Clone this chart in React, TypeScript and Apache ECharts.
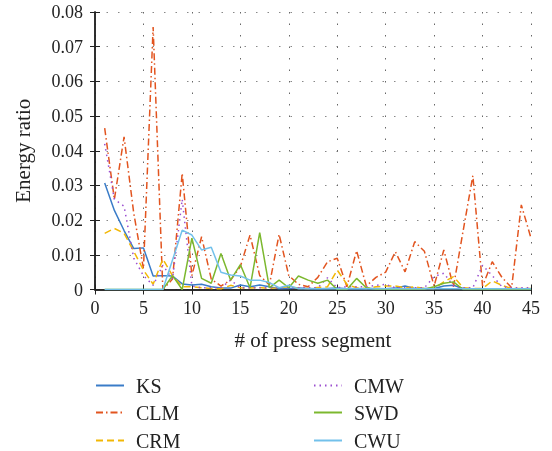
import React, { useEffect, useRef } from "react";
import * as echarts from "echarts";

const segments = Array.from({ length: 45 }, (_, i) => i + 1);
const xTicks = [0, 5, 10, 15, 20, 25, 30, 35, 40, 45];
const legendLeftColumn = ["KS", "CLM", "CRM"];
const legendRightColumn = ["CMW", "SWD", "CWU"];

const KS = [0.0307, 0.0228, 0.017, 0.0118, 0.012, 0.0039, 0.004, 0.0039, 0.0016, 0.0013, 0.0015, 0.0008, 0.0004, 0.0004, 0.0013, 0.0008, 0.0013, 0.0008, 0.0002, 0.0003, 0.0004, 0.0003, 0.0002, 0.0003, 0.0004, 0.0002, 0.0003, 0.0002, 0.0003, 0.0002, 0.0004, 0.001, 0.0003, 0.0003, 0.0003, 0.001, 0.0012, 0.0003, 0.0002, 0.0002, 0.0002, 0.0002, 0.0002, 0.0002, 0.0002];
const CLM = [0.0465, 0.026, 0.044, 0.022, 0.006, 0.0757, 0.0, 0.003, 0.0335, 0.004, 0.0152, 0.003, 0.001, 0.0027, 0.0066, 0.0157, 0.004, 0.0013, 0.0159, 0.004, 0.0015, 0.0008, 0.0035, 0.008, 0.009, 0.0008, 0.0112, 0.001, 0.0035, 0.005, 0.0109, 0.0051, 0.0138, 0.011, 0.001, 0.0114, 0.0008, 0.017, 0.0328, 0.001, 0.008, 0.0035, 0.0005, 0.0244, 0.0148];
const CRM = [0.0162, 0.0176, 0.0162, 0.011, 0.0056, 0.0015, 0.0088, 0.004, 0.0008, 0.0008, 0.0005, 0.0003, 0.0002, 0.0012, 0.0005, 0.0004, 0.0006, 0.0003, 0.0005, 0.0008, 0.0004, 0.0003, 0.0006, 0.0008, 0.0056, 0.0015, 0.0005, 0.0003, 0.0008, 0.001, 0.001, 0.0005, 0.0008, 0.0003, 0.0003, 0.0022, 0.0037, 0.0005, 0.0003, 0.0003, 0.0025, 0.0012, 0.0003, 0.0003, 0.0003];
const CMW = [0.042, 0.026, 0.024, 0.009, 0.004, 0.0012, 0.007, 0.003, 0.026, 0.001, 0.0005, 0.0005, 0.0005, 0.0027, 0.0005, 0.0005, 0.0005, 0.0005, 0.0005, 0.0005, 0.0005, 0.0005, 0.0005, 0.0034, 0.0005, 0.0008, 0.0008, 0.0008, 0.0012, 0.0015, 0.0005, 0.0005, 0.0005, 0.0005, 0.0037, 0.0047, 0.001, 0.0005, 0.0005, 0.007, 0.004, 0.0008, 0.0005, 0.0005, 0.0005];
const SWD = [0, 0, 0, 0, 0, 0, 0, 0.004, 0, 0.0148, 0.0032, 0.0018, 0.0104, 0.0027, 0.0072, 0.0005, 0.0164, 0.0005, 0.0027, 0.0005, 0.0039, 0.0027, 0.0018, 0.0027, 0, 0, 0.0032, 0.0005, 0.0001, 0.0001, 0.0001, 0.0001, 0.0001, 0.0001, 0.0008, 0.0018, 0.0022, 0, 0, 0, 0, 0, 0, 0, 0];
const CWU = [0, 0, 0, 0, 0, 0, 0, 0.0085, 0.0171, 0.0157, 0.0114, 0.0122, 0.005, 0.0042, 0.0039, 0.0027, 0.0027, 0.002, 0.0005, 0.0012, 0.0002, 0.0002, 0.0002, 0.0002, 0.0002, 0.0002, 0.0002, 0.0002, 0.0002, 0.0002, 0.0002, 0.0002, 0.0002, 0.0002, 0.0002, 0.0002, 0.0002, 0.0002, 0.0002, 0.0002, 0.0002, 0.0002, 0.0002, 0.0002, 0.0002];

const FONT = "Liberation Serif";

export default function App() {
  const ref = useRef<HTMLDivElement>(null);
  useEffect(() => {
    if (!ref.current) return;
    const chart = echarts.init(ref.current, null, { renderer: "svg" });
    const mk = (name: string, data: number[], color: string, type: any) => ({
      name,
      type: "line",
      symbol: "none",
      data: segments.map((s, i) => [s, data[i]]),
      lineStyle: { color, width: 1.5, type },
      itemStyle: { color },
    });
    const axisCommon = {
      axisLine: { show: true, lineStyle: { color: "#222", width: 1.5 } },
      axisTick: { show: true, inside: true, length: 5, lineStyle: { color: "#222" } },
    };
    const rowTops = [375.5, 402.5, 430.5];
    const mkLegend = (name: string, left: number, top: number) => ({
      orient: "vertical",
      top,
      left,
      padding: 0,
      itemWidth: 28,
      itemHeight: 12,
      itemStyle: { opacity: 0 },
      textStyle: { fontFamily: FONT, fontSize: 20, lineHeight: 19, color: "#222", padding: [0, 0, 0, 7] },
      data: [name],
    });
    chart.setOption({
      animation: false,
      grid: { left: 95, right: 21, top: 12, bottom: 161.5 },
      legend: [
        ...legendLeftColumn.map((n, i) => mkLegend(n, 95, rowTops[i])),
        ...legendRightColumn.map((n, i) => mkLegend(n, 313, rowTops[i])),
      ],
      xAxis: [
        {
          type: "value",
          min: 0,
          max: 45,
          interval: 5,
          name: "# of press segment",
          nameLocation: "middle",
          nameGap: 40,
          nameTextStyle: { fontFamily: FONT, fontSize: 21, color: "#222" },
          ...axisCommon,
          axisLabel: {
            fontFamily: FONT,
            fontSize: 18,
            color: "#222",
            margin: 9.5,
            formatter: (v: number) => (xTicks.includes(v) ? String(v) : ""),
          },
          splitLine: { show: true, lineStyle: { color: "#666", type: [1.5, 10], width: 1 } },
        },
        {
          type: "value",
          min: 0,
          max: 45,
          interval: 5,
          position: "top",
          ...axisCommon,
          axisLabel: { show: false },
          splitLine: { show: false },
        },
      ],
      yAxis: [
        {
          type: "value",
          min: 0,
          max: 0.08,
          interval: 0.01,
          name: "Energy ratio",
          nameLocation: "middle",
          nameGap: 62,
          nameTextStyle: { fontFamily: FONT, fontSize: 21, color: "#222" },
          ...axisCommon,
          axisLabel: {
            fontFamily: FONT,
            fontSize: 18,
            color: "#222",
            margin: 12,
            formatter: (v: number) => (v === 0 ? "0" : v.toFixed(2)),
          },
          splitLine: { show: true, lineStyle: { color: "#888", type: [1.5, 10], width: 1 } },
        },
        {
          type: "value",
          min: 0,
          max: 0.08,
          interval: 0.01,
          position: "right",
          ...axisCommon,
          axisLabel: { show: false },
          splitLine: { show: false },
        },
      ],
      series: [
        mk("KS", KS, "#3a7cc8", "solid"),
        mk("CLM", CLM, "#e2541f", [7, 3, 1.5, 3]),
        mk("CRM", CRM, "#f2b705", [7, 4]),
        mk("CMW", CMW, "#9b4fd0", [1.5, 4]),
        mk("SWD", SWD, "#7cb82f", "solid"),
        mk("CWU", CWU, "#72c1eb", "solid"),
      ],
    });
    return () => chart.dispose();
  }, []);
  return <div ref={ref} style={{ position: "fixed", left: 0, top: 0, width: 552, height: 451 }} />;
}
